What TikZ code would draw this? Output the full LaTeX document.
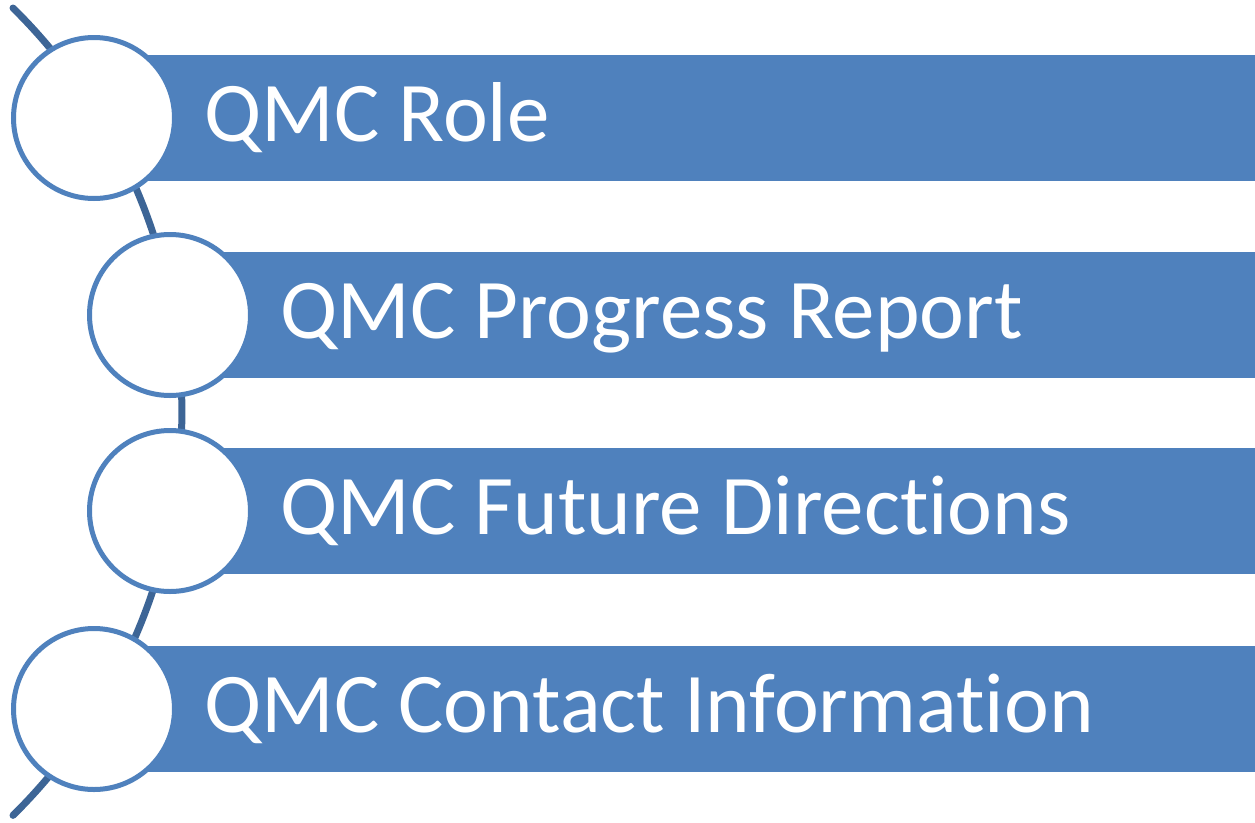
\documentclass[tikz,border=0pt]{standalone}
\usepackage{fontspec}
\setmainfont{Carlito}[Ligatures=NoCommon]
\usetikzlibrary{positioning}
\definecolor{barblue}{RGB}{79,129,189}
\definecolor{arcblue}{RGB}{61,101,150}
\tikzset{
		bar/.style   = {shape=rectangle, fill=barblue, anchor=west,
				minimum height=126pt, inner sep=0pt},
		ring/.style  = {shape=circle, draw=barblue, line width=5pt,
				fill=white, minimum size=161pt, inner sep=0pt},
		item/.style  = {text=white, inner sep=0pt, anchor=base west,
				font=\fontsize{85}{100}\selectfont},
		spine/.style = {draw=arcblue, line width=7pt, line cap=round}
	}

\begin{document}
\begin{tikzpicture}
				[x=1pt, y=-1pt]
				\useasboundingbox (0,0) rectangle (1255,822);
				% centres of the rings
				\coordinate (p1) at (94,118);
				\coordinate (p2) at (170,315);
				\coordinate (p3) at (170,511);
				\coordinate (p4) at (94,709);
				\coordinate (top) at (13,8);
				% the spine behind everything
				\draw[spine] (top) arc[start angle=-45.4, end angle=45.4, radius=567];
				% bars
				\node[bar, minimum width=1161pt] (b1) at (p1) {};
				\node[bar, minimum width=1085pt] (b2) at (p2) {};
				\node[bar, minimum width=1085pt] (b3) at (p3) {};
				\node[bar, minimum width=1161pt] (b4) at (p4) {};
				% rings
				\node[ring] (c1) at (p1) {};
				\node[ring] (c2) at (p2) {};
				\node[ring] (c3) at (p3) {};
				\node[ring] (c4) at (p4) {};
				% labels
				\node[right=27pt of c1, item, yshift=-23pt] (t1) {QMC Role};
				\node[right=27pt of c2, item, yshift=-23pt] (t2) {QMC Progress Report};
				\node[right=27pt of c3, item, yshift=-23pt] (t3) {QMC Future Directions};
				\node[right=27pt of c4, item, yshift=-23pt] (t4) {QMC Contact Information};
			\end{tikzpicture}
\end{document}
